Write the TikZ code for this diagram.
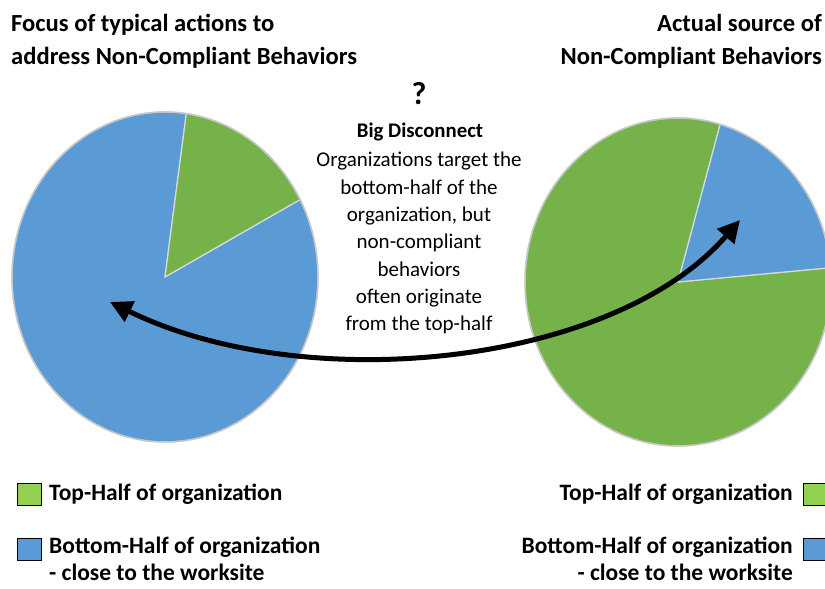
\documentclass[tikz,border=0pt]{standalone}
\usepackage{fontspec}
\setmainfont{Carlito}
\usetikzlibrary{arrows.meta}
\definecolor{pieblue}{HTML}{5B9BD5}
\definecolor{piegreen}{HTML}{76B24A}
\definecolor{keygreen}{HTML}{92D050}
\definecolor{keyblue}{HTML}{5B9BD5}

\begin{document}
\begin{tikzpicture}[x=1pt,y=1pt,
    title/.style={font=\fontsize{24.6}{28}\selectfont\bfseries, inner sep=0pt},
    note/.style={font=\fontsize{21}{24}\selectfont, inner sep=0pt, anchor=base},
    keytext/.style={font=\fontsize{23.5}{26}\selectfont\bfseries, inner sep=0pt},
    keybox/.style={draw=black, line width=0.9pt},
    slice/.style={draw=white!70!gray, line width=1.2pt, line join=round},
    rim/.style={draw=gray!45, line width=1.5pt}]
    \useasboundingbox (0,0) rectangle (825,589);
    % titles
    \node[title, anchor=base west] (ltitle1) at (11,557) {Focus of typical actions to};
    \node[title, anchor=base west] (ltitle2) at (11,524) {address Non-Compliant Behaviors};
    \node[title, anchor=base east] (rtitle1) at (822,557) {Actual source of};
    \node[title, anchor=base east] (rtitle2) at (822,524) {Non-Compliant Behaviors};
    % left pie
    \coordinate (leftpie) at (165,312);
    \fill[pieblue, slice] (leftpie) -- ++(82:153 and 165) arc[start angle=82, end angle=388, x radius=153, y radius=165] -- cycle;
    \fill[piegreen, slice] (leftpie) -- ++(28:153 and 165) arc[start angle=28, end angle=82, x radius=153, y radius=165] -- cycle;
    \draw[rim] (leftpie) ellipse[x radius=153, y radius=165];
    % right pie
    \coordinate (rightpie) at (678,307);
    \fill[piegreen, slice] (rightpie) -- ++(74:153 and 164) arc[start angle=74, end angle=365, x radius=153, y radius=164] -- cycle;
    \fill[pieblue, slice] (rightpie) -- ++(5:153 and 164) arc[start angle=5, end angle=74, x radius=153, y radius=164] -- cycle;
    \draw[rim] (rightpie) ellipse[x radius=153, y radius=164];
    % middle text
    \node[font=\fontsize{32}{36}\selectfont\bfseries, inner sep=0pt, anchor=base] (ask) at (419,484) {?};
    \node[note, font=\fontsize{20.8}{24}\selectfont\bfseries] (disconnect) at (420,451) {Big Disconnect};
    \foreach \txt [count=\i] in {Organizations target the, bottom-half of the, {organization, but}, non-compliant, behaviors, often originate, from the top-half}
        \node[note] (line\i) at (419,422-27.3*\i+27.3) {\txt};
    % arrow
    \coordinate (lefttip) at (110,287);
    \coordinate (righttip) at (740,369);
    \draw[line width=5pt, {Triangle[length=22pt,width=22pt]}-{Triangle[length=22pt,width=22pt]}]
        (lefttip) .. controls (304,192) and (612,222) .. (righttip);
    % legend
    \node[keytext, anchor=base west] (ltop) at (49,88) {Top-Half of organization};
    \node[keytext, anchor=base west] (lbot1) at (49,35) {Bottom-Half of organization};
    \node[keytext, anchor=base west] (lbot2) at (49,8) {- close to the worksite};
    \draw[keybox, fill=keygreen] (17,84) rectangle (41,106);
    \draw[keybox, fill=keyblue] (17,29) rectangle (41,51);
    \node[keytext, anchor=base east] (rtop) at (793,88) {Top-Half of organization};
    \node[keytext, anchor=base east] (rbot1) at (793,35) {Bottom-Half of organization};
    \node[keytext, anchor=base east] (rbot2) at (793,8) {- close to the worksite};
    \draw[keybox, fill=keygreen] (803,84) rectangle (827,106);
    \draw[keybox, fill=keyblue] (803,29) rectangle (827,51);
\end{tikzpicture}
\end{document}
